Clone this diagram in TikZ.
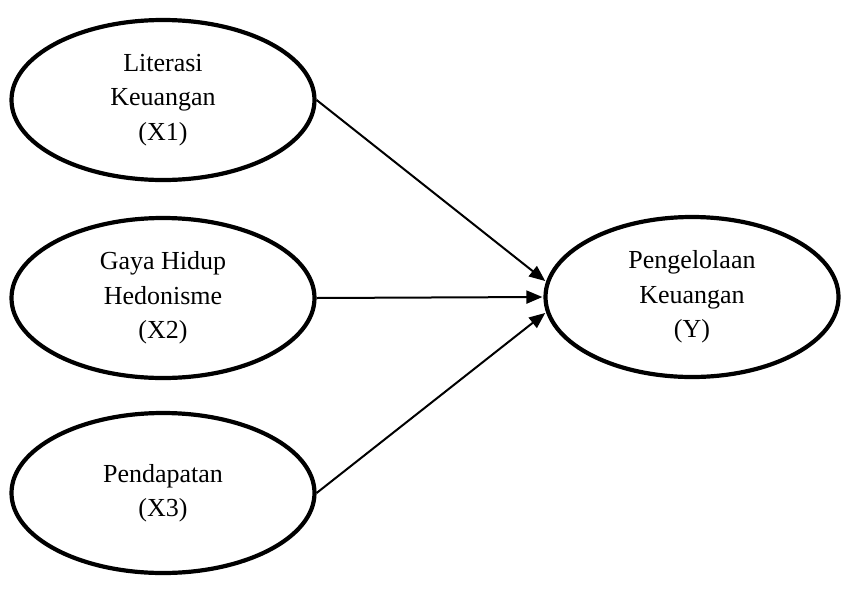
\documentclass[tikz,border=0pt]{standalone}
\usepackage{fontspec}
\setmainfont{Liberation Serif}
\usetikzlibrary{shapes.geometric,arrows.meta}
\begin{document}
\begin{tikzpicture}[x=1pt,y=-1pt,
  latent/.style={ellipse, draw, line width=4.2pt, minimum width=303pt, minimum height=160pt,
    inner sep=0pt, align=center, font=\fontsize{26}{34.5}\selectfont},
  relpath/.style={line width=2pt, -{Triangle[length=16pt,width=13pt]}, shorten >=1pt}]
\useasboundingbox (0,0) rectangle (841,603);
\node[latent] (X1) at (163,100) {Literasi\\Keuangan\\(X1)};
\node[latent] (X2) at (163,298) {Gaya Hidup\\Hedonisme\\(X2)};
\node[latent] (X3) at (163,493) {Pendapatan\\(X3)};
\node[latent, minimum width=293pt] (Y) at (692,297) {Pengelolaan\\Keuangan\\(Y)};
\draw[relpath] (X1.east) -- (Y.174);
\draw[relpath] (X2.east) -- (Y.west);
\draw[relpath] (X3.east) -- (Y.186);
\end{tikzpicture}
\end{document}
